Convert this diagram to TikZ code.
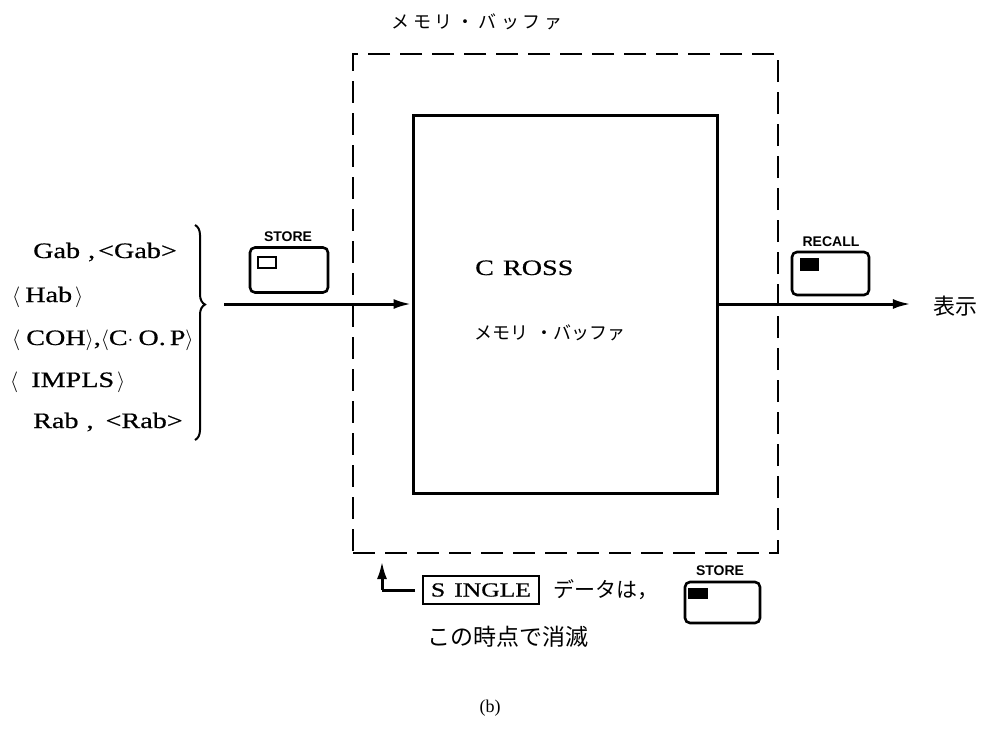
\documentclass[tikz,border=0pt]{standalone}
\usepackage{fontspec}
\setmainfont{Liberation Serif}
\newfontfamily\lst{Liberation Serif}[FakeStretch=1.28,FakeBold=0.6]
\newfontfamily\jp{Noto Sans CJK JP}
\newfontfamily\lab{Liberation Sans}
\usetikzlibrary{arrows.meta,decorations.pathreplacing}
\newcommand{\fs}[1]{\fontsize{#1}{#1}\selectfont}
\newcommand{\la}{$\langle$}
\newcommand{\ra}{$\rangle$}
\tikzset{
  btn/.style={draw, line width=2.6pt, rounded corners=5pt, inner sep=0pt},
  btnlab/.style={font=\lab\bfseries\fs{14}, inner sep=0pt},
  lamp/.style={draw, line width=2pt, inner sep=0pt},
  lampon/.style={fill=black, draw, line width=0.8pt, inner sep=0pt},
  arr/.style={line width=3pt, -{Latex[length=18pt,width=10pt]}},
  item/.style={anchor=base west, font=\lst\fs{22}, inner sep=0pt},
  jtext/.style={font=\jp\fs{#1}, inner sep=0pt},
}
\begin{document}
\begin{tikzpicture}[x=1pt,y=-1pt]
\useasboundingbox (0,0) rectangle (985,755);

% outer dashed buffer
\node[draw, dash pattern=on 22pt off 10pt, line width=2.8pt, minimum width=425pt, minimum height=499pt, inner sep=0pt] (buf) at (565.5,303.5) {};
\node[jtext=18] (title) at (477,22) {メ\hspace{4pt}モ\hspace{4pt}リ\hspace{4pt}・\hspace{4pt}バ\hspace{4pt}ッ\hspace{4pt}フ\hspace{4pt}ァ};

% inner memory buffer
\node[draw, line width=3pt, minimum width=304pt, minimum height=378pt, inner sep=0pt] (inner) at (565,304) {};
\node[anchor=base west, font=\lst\fs{22}, inner sep=0pt] (cross) at (475,275) {C\hspace{9pt}ROSS};
\node[jtext=18, anchor=west] (innerlab) at (474,333) {メモリ\hspace{7pt}・バッファ};

% list of items with brace
\node[item] (i1) at (33,258) {Gab\hspace{8pt},\hspace{3pt}<Gab>};
\node[item] (i2) at (12,302) {\la\hspace{5pt}Hab\hspace{3pt}\ra};
\node[item] (i3) at (12,345) {\la\hspace{6pt}COH\ra,\la C$\cdot$\hspace{5pt}O.\hspace{4pt}P\ra};
\node[item] (i4) at (10,387) {\la\hspace{13pt}IMPLS\hspace{3pt}\ra};
\node[item] (i5) at (33,428) {Rab\hspace{8pt},\hspace{12pt}<Rab>};
\draw[line width=2pt, decorate, decoration={brace, amplitude=10pt, aspect=0.37}] (195,225) -- (195,440);
\coordinate (src) at (224,304);
\draw[arr] (src) -- (inner.west);

% STORE button (input)
\node[btn, minimum width=78pt, minimum height=45pt] (st1) at (289,270) {};
\node[btnlab] (st1l) at (288,237) {STORE};
\node[lamp, minimum width=18pt, minimum height=11pt] (st1lamp) at (266.5,262) {};

% RECALL button (output)
\node[btn, minimum width=77pt, minimum height=43pt] (rc) at (830.5,273.5) {};
\node[btnlab] (rcl) at (831,242) {RECALL};
\node[lampon, minimum width=18pt, minimum height=12pt] (rclamp) at (809.5,264.5) {};

\node[jtext=22] (disp) at (955,306) {表示};
\draw[arr, shorten >=22pt] (inner.east) -- (disp.west |- inner.east);

% bottom note
\node[draw, line width=1.6pt, minimum width=116pt, minimum height=28pt, inner sep=0pt, font=\lst\fs{20}] (single) at (481,590) {S\hspace{9pt}INGLE};
\coordinate (corner) at (382,590);
\coordinate (tip) at (382,561);
\draw[line width=3pt] ([xshift=-7pt]single.west) -- (corner);
\draw[arr] (corner) -- (tip);
\node[jtext=21, anchor=west] (data) at (553,590) {データは，};
\node[btn, minimum width=75pt, minimum height=41pt] (st2) at (722.5,602.5) {};
\node[btnlab] (st2l) at (720,571) {STORE};
\node[lampon, minimum width=19pt, minimum height=10pt] (st2lamp) at (698,593) {};
\node[jtext=23, anchor=west] (vanish) at (427,637) {この時点で消滅};

\node[font=\fs{18}, inner sep=0pt] (cap) at (490,708) {(b)};
\end{tikzpicture}
\end{document}
